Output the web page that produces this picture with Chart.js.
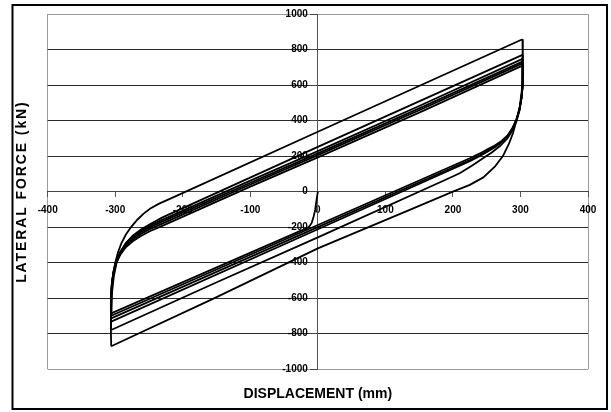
<!DOCTYPE html>
<html>
<head>
<meta charset="utf-8">
<script src="https://cdn.jsdelivr.net/npm/chart.js@4/dist/chart.umd.min.js"></script>
<style>
  html, body { margin: 0; padding: 0; background: #fff; }
  #wrap { width: 611px; height: 412px; }
</style>
</head>
<body>
<div id="wrap"><canvas id="hyst" width="611" height="412"></canvas></div>
<script>
// tick labels and titles
const xTicks = [-400, -300, -200, -100, 0, 100, 200, 300, 400];
const yTicks = [-1000, -800, -600, -400, -200, 0, 200, 400, 600, 800, 1000];
const xTitle = 'DISPLACEMENT (mm)';
const yTitle = 'LATERAL FORCE (kN)';

// hysteresis branches, [displacement mm, force kN], in test order
const initial = [[0, 0], [-2, -50], [-4, -103], [-6.5, -145], [-9.3, -178], [-13, -198], [-18, -209], [-25, -220], [-306, -686]];
const upper1 = [[-306, -686], [-306, -600], [-305, -530], [-303, -460], [-300, -400], [-296, -343], [-291, -292], [-284, -240], [-276, -197], [-267, -157], [-258, -124], [-248, -95], [-235, -68], [-220, -42], [0, 337], [303, 858]];
const lower1 = [[303, 858], [303.5, 760], [303.5, 680], [302, 570], [299, 480], [294, 400], [289, 330], [283, 270], [274, 200], [262, 140], [245, 80], [225, 38], [200, 0], [136, -103], [0, -320], [-153, -600], [-306, -871]];
const upper2 = [[-306, -871], [-306.5, -770], [-306, -660], [-304.5, -560], [-302, -475], [-298, -400], [-292, -338], [-284, -288], [-274, -248], [-262, -213], [-248, -182], [-230, -145], [0, 252], [303, 770]];
const lower2 = [[303, 770], [303.5, 680], [303, 600], [301.5, 525], [298.5, 455], [294, 395], [288, 342], [280, 296], [270, 258], [258, 222], [244, 186], [228, 145], [210, 103], [190, 68], [0, -258], [-153, -516], [-306, -779]];
const upper3 = [[-306, -779], [-306.5, -680], [-306, -590], [-304.5, -505], [-302, -440], [-298, -382], [-292, -335], [-284, -290], [-274, -252], [-262, -220], [-248, -190], [-232, -162], [-100, 62], [0, 228], [150, 482], [303, 747]];
const lower3 = [[303, 747], [303.5, 670], [303, 600], [301.5, 530], [298.5, 462], [294, 404], [288, 352], [281, 312], [272, 278], [262, 250], [251, 224], [240, 200], [225, 171], [0, -212], [-306, -732]];
const upper4 = [[-306, -732], [-306.5, -650], [-306, -580], [-304.5, -505], [-302, -443], [-298, -386], [-292, -340], [-284, -297], [-274, -261], [-262, -229], [-248, -200], [-232, -172], [-100, 50], [0, 215], [150, 469], [303, 732]];
const lower4 = [[303, 732], [303.5, 660], [303, 595], [301.5, 528], [298.5, 462], [294, 404], [288, 354], [281, 314], [272, 280], [262, 253], [251, 230], [240, 205], [225, 178], [0, -200], [-306, -714]];
const upper5 = [[-306, -714], [-306.5, -640], [-306, -575], [-304.5, -505], [-302, -447], [-298, -392], [-292, -346], [-284, -304], [-274, -270], [-262, -239], [-248, -210], [-232, -183], [-100, 40], [0, 205], [150, 458], [303, 722]];
const lower5 = [[303, 722], [303.5, 655], [303, 592], [301.5, 527], [298.5, 462], [294, 405], [288, 356], [281, 317], [272, 285], [262, 259], [251, 238], [240, 215], [225, 188], [0, -188], [-306, -699]];
const upper6 = [[-306, -699], [-306.5, -630], [-306, -570], [-304.5, -505], [-302, -450], [-298, -398], [-292, -352], [-284, -312], [-274, -280], [-262, -250], [-248, -222], [-232, -196], [-100, 28], [0, 193], [150, 445], [303, 709]];

const branches = [initial, upper1, lower1, upper2, lower2, upper3, lower3, upper4, lower4, upper5, lower5, upper6];

const fontFamily = "'Liberation Sans', Arial, sans-serif";

// outer frame round the whole figure
const framePlugin = {
    id: 'frame',
    afterDraw(chart) {
        const c = chart.ctx;
        c.save();
        c.strokeStyle = '#000';
        c.lineWidth = 2;
        c.strokeRect(12.5, 5, 594.5, 404);
        c.restore();
    }
};

// the vertical title is drawn a bit spread out in the original
const spacedTitle = {
    id: 'spacedTitle',
    afterLayout(chart) {
        chart.boxes.forEach(b => {
            if (b.options && b.options.text === yTitle && !b._spaced) {
                const orig = b.draw.bind(b);
                b.draw = function (area) {
                    const c = this.ctx;
                    c.save();
                    c.letterSpacing = '1.9px';
                    orig(area);
                    c.restore();
                };
                b._spaced = true;
            }
        });
    }
};

const ctx = document.getElementById('hyst').getContext('2d');
new Chart(ctx, {
    type: 'scatter',
    data: {
        datasets: branches.map(b => ({
            data: b.map(p => ({ x: p[0], y: p[1] })),
            showLine: true,
            borderColor: '#000',
            borderWidth: 1.8,
            pointRadius: 0,
            tension: 0,
            fill: false
        }))
    },
    options: {
        responsive: false,
        animation: false,
        layout: { padding: { left: 0, right: 23, top: 14, bottom: 0 } },
        plugins: {
            legend: { display: false },
            tooltip: { enabled: false },
            title: {
                display: true,
                text: xTitle,
                position: 'bottom',
                fullSize: false,
                color: '#000',
                font: { family: fontFamily, size: 14, weight: 'bold' },
                padding: { top: 17, bottom: 9 }
            },
            subtitle: {
                display: true,
                text: yTitle,
                position: 'left',
                fullSize: false,
                color: '#000',
                font: { family: fontFamily, size: 14, weight: 'bold' },
                padding: { top: 14, bottom: 16.9 }
            }
        },
        scales: {
            x: {
                type: 'linear',
                min: -400, max: 400,
                position: { y: 0 },
                afterBuildTicks: s => { s.ticks = xTicks.map(v => ({ value: v })); },
                ticks: {
                    color: '#000',
                    padding: 8,
                    font: { family: fontFamily, size: 10, weight: 'bold' },
                    callback: v => String(v)
                },
                grid: {
                    color: c => (c.tick && Math.abs(c.tick.value) === 400) ? '#9a9a9a' : 'rgba(0,0,0,0)',
                    tickColor: '#555',
                    tickLength: 5,
                    lineWidth: 1
                },
                border: { color: '#444', width: 1 }
            },
            y: {
                type: 'linear',
                min: -1000, max: 1000,
                position: { x: 0 },
                afterBuildTicks: s => { s.ticks = yTicks.map(v => ({ value: v })); },
                ticks: {
                    color: '#000',
                    font: { family: fontFamily, size: 10, weight: 'bold' },
                    // labels sit about 10px left of the axis line
                    callback: v => String(v) + '\u2002\u2002'
                },
                grid: {
                    color: c => (c.tick && Math.abs(c.tick.value) === 1000) ? '#9a9a9a' : '#2a2a2a',
                    tickColor: '#444',
                    tickLength: 7,
                    lineWidth: 1
                },
                border: { color: '#555', width: 1 }
            }
        }
    },
    plugins: [framePlugin, spacedTitle]
});
</script>
</body>
</html>
